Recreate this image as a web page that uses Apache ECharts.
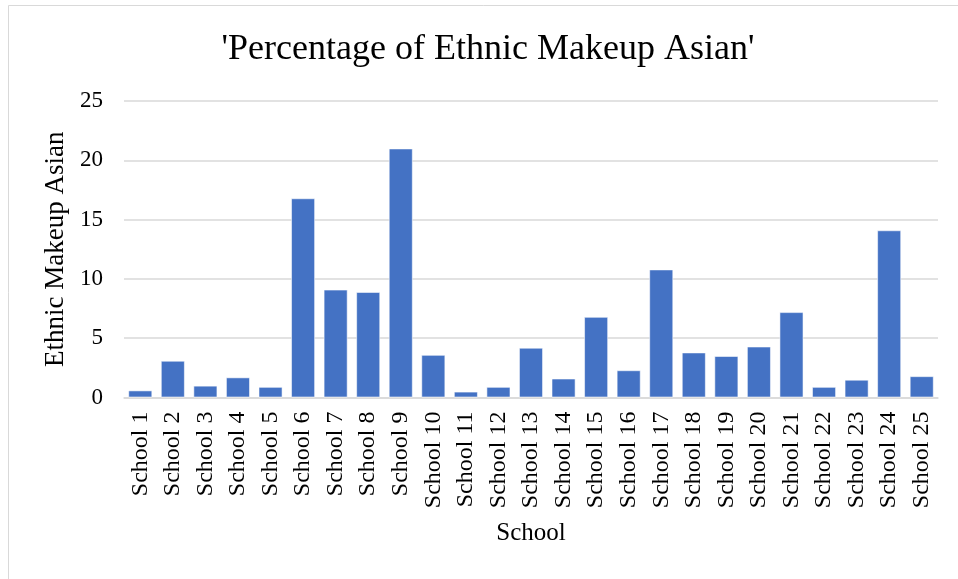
<!DOCTYPE html>
<html>
<head>
<meta charset="utf-8">
<title>Percentage of Ethnic Makeup Asian</title>
<script src="https://cdn.jsdelivr.net/npm/echarts@6/dist/echarts.min.js"></script>
<style>
  html, body { margin: 0; padding: 0; background: #ffffff; }
  #chart { width: 958px; height: 579px; }
</style>
</head>
<body>
<div id="chart"></div>
<script>
// Schools on the category axis
const schools = [
  'School 1', 'School 2', 'School 3', 'School 4', 'School 5',
  'School 6', 'School 7', 'School 8', 'School 9', 'School 10',
  'School 11', 'School 12', 'School 13', 'School 14', 'School 15',
  'School 16', 'School 17', 'School 18', 'School 19', 'School 20',
  'School 21', 'School 22', 'School 23', 'School 24', 'School 25'
];

// Percentage of students of Asian ethnicity per school
const asianPct = [
  0.6, 3.1, 1.0, 1.7, 0.9,
  16.8, 9.1, 8.9, 21.0, 3.6,
  0.5, 0.9, 4.2, 1.6, 6.8,
  2.3, 10.8, 3.8, 3.5, 4.3,
  7.2, 0.9, 1.5, 14.1, 1.8
];

// Value axis range and step
const yMin = 0;
const yMax = 25;
const yStep = 5;

const serif = '"Liberation Serif", "Times New Roman", "DejaVu Serif", serif';
const textColor = '#000000';
const gridColor = '#d9d9d9';

const chart = echarts.init(document.getElementById('chart'), null, { renderer: 'canvas' });

chart.setOption({
  animation: false,
  backgroundColor: '#ffffff',
  title: {
    text: "'Percentage of Ethnic Makeup Asian'",
    left: 483,
    top: 27,
    textAlign: 'center',
    textStyle: {
      fontFamily: serif,
      fontSize: 36,
      fontWeight: 'normal',
      color: textColor
    }
  },
  graphic: [{
    type: 'rect',
    silent: true,
    shape: { x: 8.5, y: 5.5, width: 970, height: 600 },
    style: { fill: 'none', stroke: gridColor, lineWidth: 1 }
  }],
  grid: {
    left: 124,
    right: 20,
    top: 101,
    bottom: 181.5,
    containLabel: false
  },
  xAxis: {
    type: 'category',
    data: schools,
    name: 'School',
    nameLocation: 'middle',
    nameGap: 123,
    nameTextStyle: { fontFamily: serif, fontSize: 25, color: textColor },
    axisLine: { show: true, lineStyle: { color: gridColor, width: 1.5 } },
    axisTick: { show: false },
    axisLabel: {
      rotate: 90,
      margin: 14,
      interval: 0,
      fontFamily: serif,
      fontSize: 24,
      color: textColor
    }
  },
  yAxis: {
    type: 'value',
    min: yMin,
    max: yMax,
    interval: yStep,
    name: 'Ethnic Makeup Asian',
    nameLocation: 'middle',
    nameGap: 50,
    nameRotate: 90,
    nameTextStyle: { fontFamily: serif, fontSize: 27, color: textColor },
    axisLine: { show: false },
    axisTick: { show: false },
    axisLabel: {
      margin: 21,
      fontFamily: serif,
      fontSize: 23,
      color: textColor
    },
    splitLine: { show: true, lineStyle: { color: gridColor, width: 1.5 } }
  },
  series: [{
    type: 'bar',
    data: asianPct,
    barCategoryGap: '26%',
    itemStyle: {
      color: '#4472c4',
      borderColor: 'rgba(255,255,255,0.55)',
      borderWidth: 1
    }
  }]
});
</script>
</body>
</html>
